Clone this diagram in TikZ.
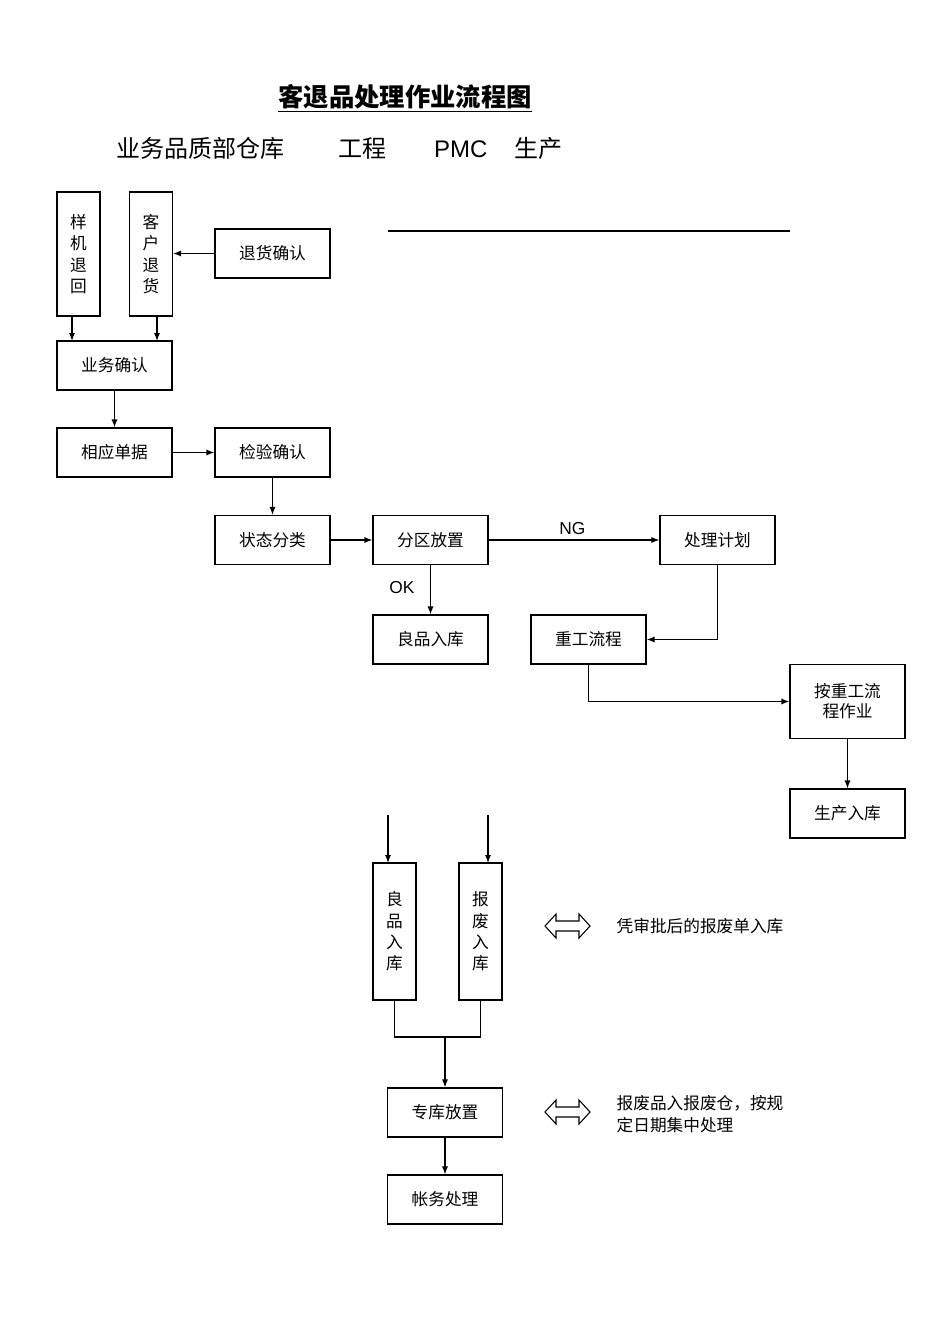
\documentclass[tikz,border=0pt]{standalone}
\usepackage{fontspec}
\setmainfont{Liberation Sans}
\newfontfamily\cjk{Noto Sans CJK SC}
\usetikzlibrary{arrows.meta}
\begin{document}
\begin{tikzpicture}[x=0.75pt,y=-0.75pt,
 bx/.style={draw,line width=0.8pt,minimum width=86.25pt,minimum height=36.75pt,inner sep=0pt,font=\cjk\fontsize{12.5}{15}\selectfont},
 vb/.style={draw,line width=0.8pt,minimum width=32.25pt,inner sep=0pt,font=\cjk\fontsize{12.5}{16}\selectfont,align=center},
 ar/.style={-{Latex[length=6pt,width=4.5pt]},line width=0.8pt},
 ln/.style={line width=0.8pt},
 tx/.style={font=\cjk\fontsize{12.5}{16}\selectfont,align=left,anchor=west}]
\useasboundingbox (0,0) rectangle (950,1344);
\node[font=\cjk\bfseries\fontsize{19}{22}\selectfont] (title) at (405,98) {\underline{客退品处理作业流程图}};
\node[font=\cjk\fontsize{18}{22}\selectfont,anchor=west] (hdr) at (112,148) {业务品质部仓库\hspace{40pt}工程\hspace{36pt}{\fontspec{Liberation Sans}PMC}\hspace{20pt}生产};
\node[vb,minimum height=93pt] (yj) at (78.5,254) {样\\机\\退\\回};
\node[vb,minimum height=93pt] (kh) at (151,254) {客\\户\\退\\货};
\node[bx] (thqr) at (272.5,253.5) {退货确认};
\node[bx] (ywqr) at (114.5,365.5) {业务确认};
\node[bx] (xydj) at (114.5,452.5) {相应单据};
\node[bx] (jyqr) at (272.5,452.5) {检验确认};
\node[bx] (ztfl) at (272.5,540) {状态分类};
\node[bx] (fqfz) at (430.5,540) {分区放置};
\node[bx] (cljh) at (717.5,540) {处理计划};
\node[bx] (lprk) at (430.5,639.5) {良品入库};
\node[bx] (cglc) at (588.5,639.5) {重工流程};
\node[bx,minimum height=56pt,align=center] (acg) at (847.5,701.5) {按重工流\\程作业};
\node[bx] (scrk) at (847.5,813.5) {生产入库};
\draw[ln] (388,231) -- (790,231);
\draw[ar] (thqr.west) -- (kh.east |- thqr.west);
\draw[ar] (72,316) -- (72,341);
\draw[ar] (157,316) -- (157,341);
\draw[ar] (ywqr) -- (xydj);
\draw[ar] (xydj) -- (jyqr);
\draw[ar] (jyqr) -- (ztfl);
\draw[ar] (ztfl) -- (fqfz);
\draw[ar] (fqfz) -- node[above,font=\fontsize{13}{15}\selectfont,pos=0.49]{NG} (cljh);
\draw[ar] (fqfz) -- (lprk);
\node[font=\fontsize{13}{15}\selectfont] (ok) at (402,588) {OK};
\draw[ar] (cljh.south) |- (cglc.east);
\draw[ar] (cglc.south) |- (acg.west);
\draw[ar] (acg) -- (scrk);
\node[vb,minimum height=102.75pt] (lp2) at (394.5,931.5) {良\\品\\入\\库};
\node[vb,minimum height=102.75pt] (bf) at (480.5,931.5) {报\\废\\入\\库};
\coordinate (s1) at (388,815); \coordinate (s2) at (488,815);
\draw[ar] (s1) -- (388,863);
\draw[ar] (s2) -- (488,863);
\node[bx] (zk) at (445,1112.5) {专库放置};
\node[bx] (zw) at (445,1199.5) {帐务处理};
\coordinate (j) at (445,1037);
\draw[ln] (lp2.south) |- (j) -| (bf.south);
\draw[ar] (j) -- (zk);
\draw[ar] (zk) -- (zw);
\foreach \yy in {926,1112}{
 \draw[line width=0.8pt] (545,\yy) -- (556,\yy-12) -- (556,\yy-5) -- (579,\yy-5) -- (579,\yy-12) -- (590,\yy) -- (579,\yy+12) -- (579,\yy+5) -- (556,\yy+5) -- (556,\yy+12) -- cycle;}
\node[tx] (t1) at (612,926) {凭审批后的报废单入库};
\node[tx] (t2) at (612,1114) {报废品入报废仓，按规\\定日期集中处理};
\end{tikzpicture}
\end{document}
